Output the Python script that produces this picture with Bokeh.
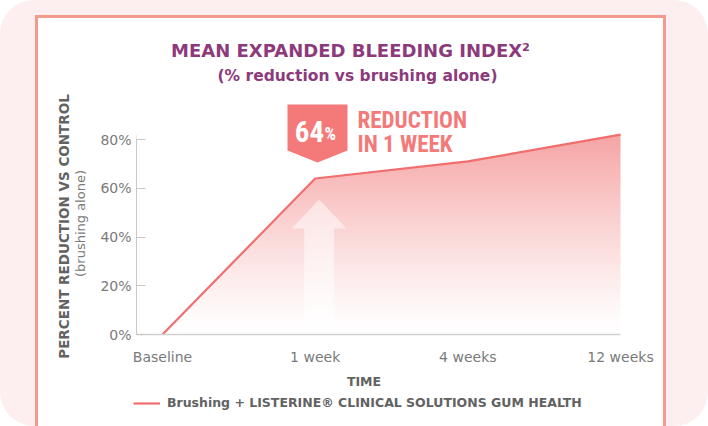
import numpy as np
from bokeh.plotting import figure
from bokeh.models import Range1d, FixedTicker, Label, Legend, LegendItem
from bokeh.embed import file_html
from bokeh.resources import INLINE

# ---------------- data ----------------
categories = ["Baseline", "1 week", "4 weeks", "12 weeks"]
reduction = [0, 64, 71, 82]          # % reduction vs brushing alone
y_ticks = [0, 20, 40, 60, 80]
y_tick_labels = ["0%", "20%", "40%", "60%", "80%"]

title_text = "MEAN EXPANDED BLEEDING INDEX²"
subtitle_text = "(% reduction vs brushing alone)"
y_label_main = "PERCENT REDUCTION VS CONTROL"
y_label_sub = "(brushing alone)"
x_label = "TIME"
series_name = "Brushing + LISTERINE® CLINICAL SOLUTIONS GUM HEALTH"
callout_lines = ["REDUCTION", "IN 1 WEEK"]

# ---------------- style / layout ----------------
PURPLE = "#8c3a7c"
SALMON = "#f47a7a"
LINE = "#f06e6e"
GRAY = "#7a7a7a"
DGRAY = "#626262"
BODY = "DejaVu Sans"
NARROW = "Liberation Sans Narrow, Roboto Condensed, DejaVu Sans Condensed, sans-serif"

W, H = 708, 426
# pixel placement of the plotting area: category 0 at px 162, spacing 152.67 px;
# value 0 at py 334, 2.4375 px per percent
PX0, PXS = 162.0, 152.67
PY0, PYS = 334.0, 2.4375


def X(px):
    return (px - PX0) / PXS


def Y(py):
    return (PY0 - py) / PYS


xs = list(range(len(categories)))
x0 = X(136)
x1 = xs[-1]

p = figure(width=W, height=H, output_backend="svg", toolbar_location=None,
           x_range=Range1d(X(0), X(W)), y_range=Range1d(Y(H), Y(0)),
           min_border=0, min_border_left=0, min_border_right=0,
           min_border_top=0, min_border_bottom=0)
p.border_fill_color = None
p.background_fill_color = None
p.outline_line_color = None
p.grid.visible = False
p.styles = {
    "background": "linear-gradient(#ffffff,#ffffff) 38px 18px / 625px 420px no-repeat, "
                  "linear-gradient(#f29a8b,#f29a8b) 35px 15px / 631px 420px no-repeat, #fdefef",
    "border-radius": "34px",
}

# axes drawn at fixed data locations
yax = p.yaxis[0]
yax.fixed_location = x0
yax.ticker = FixedTicker(ticks=y_ticks)
yax.major_label_overrides = {t: l for t, l in zip(y_ticks, y_tick_labels)}
yax.bounds = (y_ticks[0], y_ticks[-1])
yax.axis_line_color = "#c8c8c8"
yax.major_tick_line_color = "#c8c8c8"
yax.major_tick_in = 9
yax.major_tick_out = 0
yax.minor_tick_line_color = None
yax.major_label_standoff = 5
yax.major_label_text_font = BODY
yax.major_label_text_font_size = "14px"
yax.major_label_text_color = GRAY

xax = p.xaxis[0]
xax.fixed_location = 0
xax.ticker = FixedTicker(ticks=xs)
xax.major_label_overrides = {x: c for x, c in zip(xs, categories)}
xax.bounds = (x0, x1)
xax.axis_line_color = "#d0d0d0"
xax.axis_line_width = 1.5
xax.major_tick_line_color = None
xax.minor_tick_line_color = None
xax.major_label_standoff = 8
xax.major_label_text_font = BODY
xax.major_label_text_font_size = "14px"
xax.major_label_text_color = GRAY

# gradient area: vertical gradient image, then white cover above the line
n = 256
frac = np.linspace(0, 1, n)
img = np.zeros((n, 4), dtype=np.uint32)
view = img.view(dtype=np.uint8).reshape((n, 4, 4))
view[:, :, 0] = 240
view[:, :, 1] = 108
view[:, :, 2] = 108
view[:, :, 3] = (0.63 * frac ** 1.2 * 255).astype(np.uint8)[:, None]
p.image_rgba(image=[img], x=x0, y=0, dw=x1 - x0, dh=max(reduction))

cover_x = [x0] + xs + [x1, x0]
cover_y = [0] + reduction + [max(reduction) + 2, max(reduction) + 2]
p.patch(cover_x, cover_y, fill_color="white", line_color=None)

# white up-arrow inside the area
ax = xs[1] + X(319) - X(315)
arrow_x = [ax, ax + 0.18, ax + 0.098, ax + 0.098, ax - 0.098, ax - 0.098, ax - 0.18]
arrow_y = [Y(199), Y(228), Y(228), Y(328), Y(328), Y(228), Y(228)]
p.patch(arrow_x, arrow_y, fill_color="white", fill_alpha=0.5, line_color=None)

line = p.line(xs, reduction, line_color=LINE, line_width=2.2)

# callout badge
bx = X(317)
hw = X(347) - X(317)
badge_x = [bx - hw, bx + hw, bx + hw, bx, bx - hw]
badge_y = [Y(104), Y(104), Y(150), Y(162), Y(150)]
p.patch(badge_x, badge_y, fill_color=SALMON, line_color=None)

p.add_layout(Label(x=X(309), y=Y(131), text=f"{reduction[1]}", text_align="center",
                   text_baseline="middle", text_color="white",
                   text_font=NARROW, text_font_style="bold", text_font_size="29px"))
p.add_layout(Label(x=X(324), y=Y(133), text="%", text_align="left",
                   text_baseline="middle", text_color="white",
                   text_font=NARROW, text_font_style="bold", text_font_size="18px"))
for txt, py in zip(callout_lines, [120, 144]):
    p.add_layout(Label(x=X(357), y=Y(py), text=txt, text_align="left", text_baseline="middle",
                       text_color=SALMON, text_font=NARROW, text_font_style="bold",
                       text_font_size="23px"))

# titles
p.add_layout(Label(x=X(350), y=Y(50), text=title_text, text_align="center", text_baseline="middle",
                   text_color=PURPLE, text_font=BODY, text_font_style="bold",
                   text_font_size="18px"))
p.add_layout(Label(x=X(357), y=Y(75), text=subtitle_text, text_align="center", text_baseline="middle",
                   text_color=PURPLE, text_font=BODY, text_font_style="bold",
                   text_font_size="15.5px"))

# axis titles
p.add_layout(Label(x=X(63), y=Y(226), text=y_label_main, angle=np.pi / 2, text_align="center",
                   text_baseline="middle", text_color=DGRAY, text_font=BODY,
                   text_font_style="bold", text_font_size="13.5px"))
p.add_layout(Label(x=X(80), y=Y(223), text=y_label_sub, angle=np.pi / 2, text_align="center",
                   text_baseline="middle", text_color=GRAY, text_font=BODY,
                   text_font_size="13px"))
p.add_layout(Label(x=X(363.5), y=Y(381), text=x_label, text_align="center", text_baseline="middle",
                   text_color=DGRAY, text_font=BODY, text_font_style="bold",
                   text_font_size="12.5px"))

legend = Legend(items=[LegendItem(label=series_name, renderers=[line])],
                location=(133, H - 410), orientation="horizontal",
                padding=0, margin=0, border_line_color=None, background_fill_alpha=0,
                glyph_width=27, glyph_height=14, label_height=14, label_standoff=7,
                label_text_font=BODY, label_text_font_style="bold",
                label_text_font_size="12.5px", label_text_color=DGRAY)
p.add_layout(legend)

open("out.html", "w").write(file_html(p, INLINE))
